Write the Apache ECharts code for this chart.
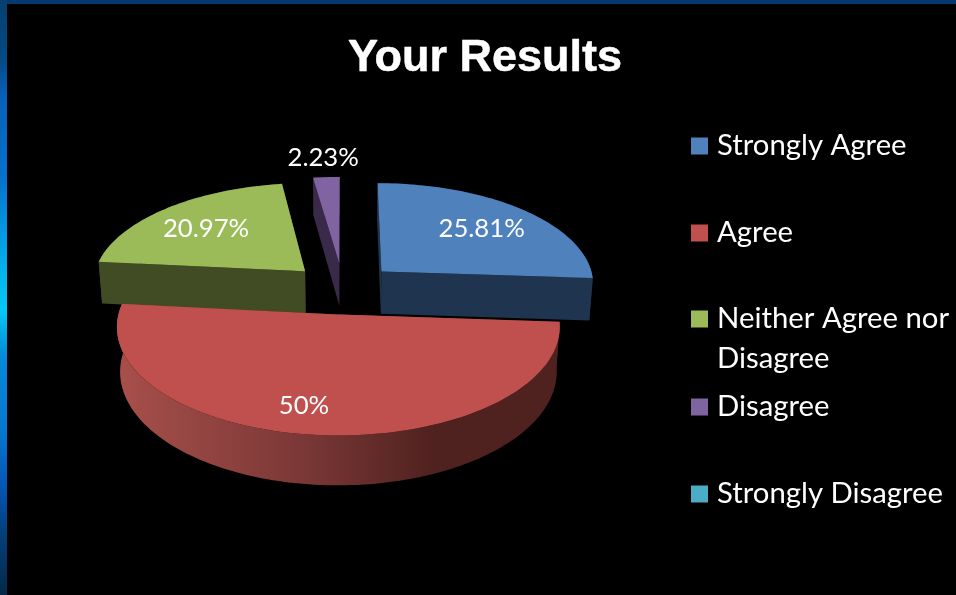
<!DOCTYPE html>
<html><head><meta charset="utf-8">
<style>html,body{margin:0;padding:0;background:#000}#c{width:956px;height:595px}</style>
<script src="https://cdn.jsdelivr.net/npm/echarts@6/dist/echarts.min.js"></script>
</head><body><div id="c"></div>
<script>
const titleText = 'Your Results';
const categories = ['Strongly Agree', 'Agree', 'Neither Agree nor Disagree', 'Disagree', 'Strongly Disagree'];
const seriesValues = [25.81, 50, 20.97, 2.23, 0];
const valueLabels = ['25.81%', '50%', '20.97%', '2.23%', ''];
const topColors = ['#4f81bd', '#c0504d', '#9bbb59', '#8064a2', '#4bacc6'];
const sideColors = ['#1f344e', null, '#414b24', '#3a2a4a', '#1d4a56'];

// projection of the tilted, exploded disc
const CX = 343, CY = 288.5, RX = 214, RY = 101.5, PERSP = 0.11, DEPTH = 43, SHRINK = 0.986, EXPLODE = 0.25;
const total = seriesValues.reduce((a, b) => a + b, 0);
const starts = seriesValues.map((v, i) => seriesValues.slice(0, i).reduce((a, b) => a + b, 0) / total * Math.PI * 2);
const labelRadial = [0.7, 0.8, 0.7, 1.28, 1];
const labelShift = [[0, 2], [-18, -3], [0, 2], [0, 2], [0, 0]];

function project(X, Z, low) {
  const s = 1 / (1 - PERSP * Z);
  let x = CX + X * s * RX, y = CY + Z * s * RY;
  if (low) { x = CX + (x - CX) * SHRINK; y += DEPTH * s; }
  return [x, y];
}
function sliceShapes(i) {
  const v = seriesValues[i];
  if (!v) return [];
  const a0 = starts[i], a1 = a0 + v / total * Math.PI * 2, mid = (a0 + a1) / 2;
  const ox = EXPLODE * Math.sin(mid), oz = -EXPLODE * Math.cos(mid);
  const at = (a, r) => [ox + r * Math.sin(a), oz - r * Math.cos(a)];
  const n = Math.max(8, Math.round((a1 - a0) * 40));
  const arc = [];
  for (let k = 0; k <= n; k++) arc.push(at(a0 + (a1 - a0) * k / n, 1));
  const apex = [ox, oz];
  const top = [apex, ...arc].map(p => project(p[0], p[1], false));
  const wallFill = sideColors[i] || new echarts.graphic.LinearGradient(0, 0, 1, 0, [
    { offset: 0, color: '#a84f4b' }, { offset: 0.42, color: '#7a3836' },
    { offset: 0.72, color: '#4f211f' }, { offset: 1, color: '#4f2220' }]);
  const wall = pts => ({
    type: 'polygon',
    shape: { points: [...pts.map(p => project(p[0], p[1], false)), ...pts.slice().reverse().map(p => project(p[0], p[1], true))] },
    style: { fill: wallFill }, silent: true
  });
  const shapes = [
    wall(arc),
    wall([apex, arc[0]]),
    wall([apex, arc[n]]),
    { type: 'polygon', shape: { points: top }, style: { fill: topColors[i] }, silent: true }
  ];
  const lp = at(mid, labelRadial[i]);
  const lxy = project(lp[0], lp[1], false);
  shapes.push({
    type: 'text', silent: true,
    style: { x: lxy[0] + labelShift[i][0], y: lxy[1] + labelShift[i][1], text: valueLabels[i], fill: '#fff',
      font: '25.7px Lato', textAlign: 'center', textVerticalAlign: 'middle' }
  });
  return shapes;
}

const legendTops = [126, 213, 259, 387, 474];
const drawOrder = [4, 3, 2, 0, 1];
const chart = echarts.init(document.getElementById('c'), null, { renderer: 'canvas' });
chart.setOption({
  animation: false,
  backgroundColor: '#000',
  title: { text: titleText, left: 480, top: 31, textAlign: 'center',
    textStyle: { color: '#fff', fontFamily: 'Liberation Sans', fontWeight: 'bold', fontSize: 45,
      textBorderColor: '#fff', textBorderWidth: 0.5 } },
  legend: categories.map((c, i) => ({
    data: [c], orient: 'vertical', left: 691, top: legendTops[i], selectedMode: false,
    icon: 'rect', itemWidth: 17, itemHeight: 17, padding: 0,
    formatter: n => i === 2 ? '\nNeither Agree nor\nDisagree' : n,
    textStyle: { color: '#fff', fontFamily: 'Lato', fontSize: 29.3, lineHeight: 40, padding: [0, 0, 0, 4] }
  })),
  graphic: [
    { type: 'rect', shape: { x: 0, y: 0, width: 956, height: 4 }, style: { fill: '#053a70' }, z: 10, silent: true },
    { type: 'rect', shape: { x: 0, y: 0, width: 7, height: 595 }, z: 10, silent: true,
      style: { fill: new echarts.graphic.LinearGradient(0, 0, 0, 1, [
        { offset: 0, color: '#05406f' }, { offset: 0.1, color: '#044a85' }, { offset: 0.16, color: '#0860b8' },
        { offset: 0.3, color: '#0572cc' }, { offset: 0.45, color: '#06b0ef' }, { offset: 0.52, color: '#07c8f5' },
        { offset: 0.6, color: '#0688d8' }, { offset: 0.72, color: '#0578d0' }, { offset: 0.82, color: '#0555b5' },
        { offset: 0.9, color: '#033f78' }, { offset: 1, color: '#042848' }]) } }
  ],
  series: drawOrder.map((i, order) => ({
    type: 'custom', name: categories[i], coordinateSystem: 'none', z: 2 + order,
    itemStyle: { color: topColors[i] },
    data: [seriesValues[i]],
    renderItem: () => ({ type: 'group', children: sliceShapes(i) })
  }))
});
</script></body></html>
